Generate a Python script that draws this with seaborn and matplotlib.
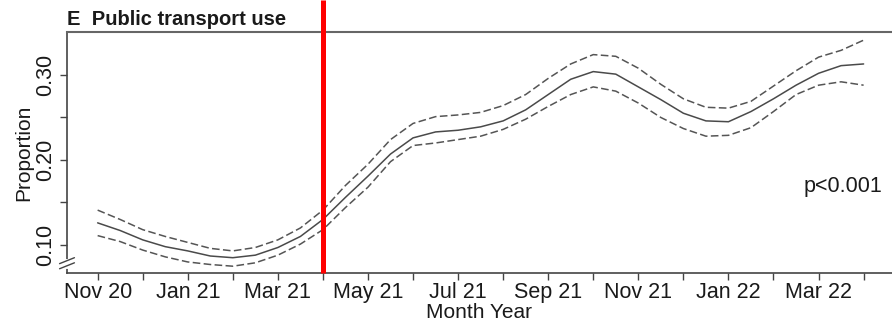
import numpy as np
import pandas as pd
import matplotlib
matplotlib.use("Agg")
import matplotlib.pyplot as plt
import matplotlib.transforms as mtransforms
import seaborn as sns

# Months elapsed since November 2020 (half-month steps)
month_index = np.arange(0, 17.01, 0.5)

# Estimated proportion using public transport, with 95% confidence bounds
proportion = [0.126, 0.117, 0.106, 0.098, 0.093, 0.087, 0.085, 0.088, 0.097, 0.110,
              0.130, 0.156, 0.181, 0.207, 0.226, 0.233, 0.235, 0.239, 0.246, 0.259,
              0.277, 0.295, 0.304, 0.301, 0.286, 0.271, 0.255, 0.246, 0.245, 0.257,
              0.272, 0.288, 0.302, 0.311, 0.313]
upper_ci = [0.141, 0.130, 0.118, 0.110, 0.103, 0.096, 0.093, 0.097, 0.106, 0.120,
            0.141, 0.170, 0.195, 0.224, 0.243, 0.251, 0.253, 0.256, 0.264, 0.277,
            0.296, 0.313, 0.324, 0.322, 0.308, 0.289, 0.272, 0.262, 0.261, 0.269,
            0.287, 0.305, 0.321, 0.329, 0.341]
lower_ci = [0.111, 0.104, 0.094, 0.086, 0.080, 0.077, 0.075, 0.079, 0.088, 0.101,
            0.118, 0.144, 0.168, 0.198, 0.217, 0.220, 0.224, 0.228, 0.236, 0.248,
            0.263, 0.277, 0.286, 0.281, 0.267, 0.250, 0.237, 0.228, 0.229, 0.238,
            0.257, 0.277, 0.288, 0.292, 0.288]

tick_months = list(range(18))
tick_labels = ["Nov 20", "", "Jan 21", "", "Mar 21", "", "May 21", "", "Jul 21", "",
               "Sep 21", "", "Nov 21", "", "Jan 22", "", "Mar 22", ""]
y_ticks = [0.10, 0.15, 0.20, 0.25, 0.30]
y_tick_labels = ["0.10", "", "0.20", "", "0.30"]
intervention_month = 5  # April 2021
p_value_text = "p<0.001"

sns.set_style("white")
plt.rcParams["font.family"] = ["Liberation Sans", "DejaVu Sans"]

df = pd.DataFrame({"month": month_index, "proportion": proportion,
                   "upper": upper_ci, "lower": lower_ci})

fig = plt.figure(figsize=(8.92, 3.24), dpi=100)
ax = fig.add_axes([67 / 892, 1 - 273 / 324, 1 - 67 / 892, (273 - 32) / 324])

line_grey = "#4a4a4a"
sns.lineplot(data=df, x="month", y="proportion", ax=ax, color=line_grey, lw=1.1)
for col in ("upper", "lower"):
    sns.lineplot(data=df, x="month", y=col, ax=ax, color="#555555", lw=1.1,
                 dashes=False, linestyle=(0, (5, 2.2)))

ax.set_xlim(-0.68, 17.63)
ax.set_ylim(0.067, 0.3506)

ax.set_xticks(tick_months)
ax.set_xticklabels(tick_labels)
ax.set_yticks(y_ticks)
ax.set_yticklabels(y_tick_labels, rotation=90, va="center")
ax.tick_params(axis="both", direction="out", length=5, width=1.0, color="#444444",
               labelsize=15.5, labelcolor="#1a1a1a", bottom=True, left=True)
ax.tick_params(axis="x", pad=1.5)
ax.tick_params(axis="y", pad=2.5)

ax.set_xlabel("Month Year", fontsize=15, color="#1a1a1a", labelpad=0)
ax.set_ylabel("Proportion", fontsize=15, color="#1a1a1a", labelpad=2)

for side in ("left", "bottom"):
    ax.spines[side].set_color("#444444")
    ax.spines[side].set_linewidth(1.2)
ax.spines["top"].set_color("#666666")
ax.spines["top"].set_linewidth(1.5)
ax.spines["right"].set_visible(False)

# Axis break marks on the y axis
blend = mtransforms.blended_transform_factory(ax.transAxes, ax.transData)
ax.plot([0, 0], [0.0745, 0.0815], transform=blend, color="white", lw=3,
        clip_on=False, zorder=5)
for yc in (0.0815, 0.0755):
    ax.plot([-0.009, 0.009], [yc - 0.0035, yc + 0.0035], transform=blend,
            color="#444444", lw=1.0, clip_on=False, zorder=6)

# Policy change marker
vblend = mtransforms.blended_transform_factory(ax.transData, ax.transAxes)
ax.plot([intervention_month, intervention_month], [0, 1 + 32 / 241],
        transform=vblend, color="#ff0000", lw=3.6, clip_on=False, zorder=7,
        solid_capstyle="butt")

ax.text(15.66, 0.169, p_value_text, fontsize=15.5, color="#1a1a1a",
        ha="left", va="center")

fig.text(67 / 892, 1 - 25 / 324, "E  Public transport use", fontsize=14.5,
         fontweight="bold", color="#1a1a1a", ha="left", va="baseline")

fig.savefig("out.png", dpi=100)
